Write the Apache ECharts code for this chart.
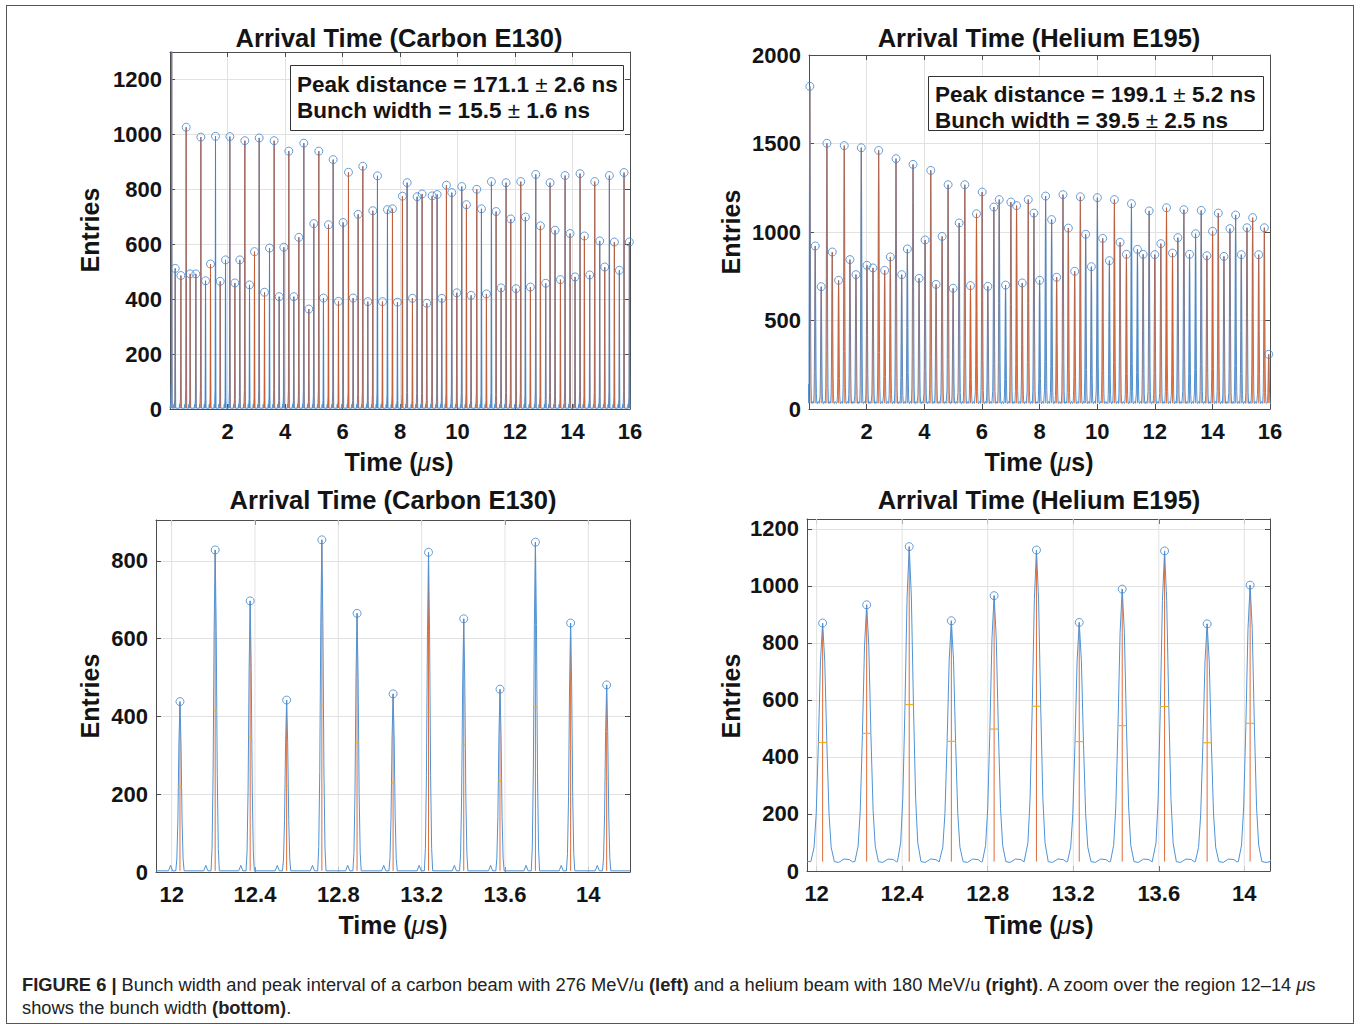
<!DOCTYPE html>
<html>
<head>
<meta charset="utf-8">
<script src="https://cdn.jsdelivr.net/npm/echarts@6/dist/echarts.min.js"></script>
<style>
html,body{margin:0;padding:0;background:#fff;}
#wrap{position:relative;width:1360px;height:1029px;overflow:hidden;background:#fff;}
#chart{position:absolute;left:0;top:0;width:1360px;height:1029px;}
#frame{position:absolute;left:6px;top:5px;width:1348px;height:1019px;border:1px solid #555;box-sizing:border-box;pointer-events:none;}
#caption{position:absolute;left:22px;top:973px;font-family:"Liberation Sans",Arial,Helvetica,sans-serif;font-size:18.3px;line-height:23px;color:#222;white-space:nowrap;}
#caption b{font-weight:bold;}
</style>
</head>
<body>
<div id="wrap">
  <div id="chart"></div>
  <div id="frame"></div>
  <div id="caption"><b>FIGURE 6 |</b> Bunch width and peak interval of a carbon beam with 276 MeV/u <b>(left)</b> and a helium beam with 180 MeV/u <b>(right)</b>. A zoom over the region 12–14 <i>μ</i>s<br>shows the bunch width <b>(bottom)</b>.</div>
</div>
<script>
// ---------------- DATA ----------------
// Top-left: Carbon E130, peak times (µs) and peak heights (entries)
const CARBON_T = [0.06, 0.181, 0.378, 0.563, 0.702, 0.899, 1.073, 1.236, 1.409, 1.583, 1.746, 1.931, 2.082, 2.256, 2.429, 2.603, 2.766, 2.939, 3.102, 3.287, 3.461, 3.623, 3.797, 3.959, 4.133, 4.307, 4.481, 4.655, 4.829, 5.002, 5.176, 5.338, 5.512, 5.675, 5.860, 6.022, 6.208, 6.370, 6.544, 6.706, 6.880, 7.054, 7.216, 7.390, 7.564, 7.738, 7.911, 8.085, 8.248, 8.433, 8.595, 8.769, 8.932, 9.117, 9.291, 9.453, 9.615, 9.801, 9.975, 10.148, 10.311, 10.473, 10.670, 10.833, 11.006, 11.180, 11.343, 11.516, 11.690, 11.852, 12.038, 12.200, 12.362, 12.536, 12.722, 12.884, 13.069, 13.220, 13.394, 13.580, 13.742, 13.916, 14.089, 14.263, 14.414, 14.599, 14.773, 14.947, 15.121, 15.283, 15.457, 15.630, 15.793, 15.978];
const CARBON_PEAK = [1450, 512, 486, 1026, 492, 492, 990, 467, 528, 993, 465, 543, 992, 459, 543, 977, 452, 573, 987, 425, 586, 977, 409, 589, 939, 409, 625, 968, 364, 675, 939, 404, 671, 908, 392, 679, 862, 404, 709, 884, 391, 722, 849, 391, 726, 729, 389, 775, 824, 403, 773, 783, 385, 776, 781, 403, 815, 788, 423, 810, 744, 414, 800, 729, 419, 828, 719, 441, 824, 692, 438, 828, 699, 444, 854, 667, 458, 824, 651, 471, 850, 639, 481, 857, 630, 488, 828, 612, 517, 850, 608, 505, 861, 608];

// Top-right: Helium E195
const HELIUM_T = [0.030, 0.216, 0.424, 0.621, 0.807, 1.027, 1.224, 1.421, 1.630, 1.815, 2.012, 2.221, 2.418, 2.626, 2.823, 3.020, 3.217, 3.414, 3.611, 3.820, 4.029, 4.226, 4.411, 4.620, 4.828, 5.002, 5.211, 5.408, 5.605, 5.813, 6.010, 6.207, 6.416, 6.602, 6.822, 7.007, 7.204, 7.401, 7.610, 7.807, 8.004, 8.213, 8.421, 8.595, 8.815, 9.001, 9.221, 9.418, 9.603, 9.800, 10.009, 10.194, 10.426, 10.600, 10.797, 11.017, 11.191, 11.400, 11.597, 11.806, 12.002, 12.211, 12.408, 12.617, 12.802, 13.011, 13.208, 13.417, 13.613, 13.810, 14.007, 14.205, 14.402, 14.610, 14.807, 15.004, 15.201, 15.398, 15.607, 15.804, 15.955];
const HELIUM_PEAK = [1823, 921, 691, 1501, 887, 727, 1488, 844, 759, 1476, 812, 797, 1461, 783, 859, 1414, 759, 904, 1382, 738, 955, 1348, 704, 975, 1267, 682, 1051, 1267, 697, 1103, 1226, 693, 1141, 1183, 700, 1169, 1149, 712, 1183, 1107, 727, 1203, 1070, 744, 1211, 1022, 778, 1199, 987, 804, 1194, 964, 838, 1183, 942, 874, 1160, 902, 874, 1119, 872, 934, 1137, 881, 968, 1126, 874, 990, 1122, 866, 1004, 1107, 862, 1019, 1096, 872, 1024, 1081, 872, 1024, 309];

// Bottom-left: Carbon zoom 12–14 µs
const CARBON_ZOOM_T = [12.040, 12.209, 12.377, 12.552, 12.721, 12.890, 13.063, 13.233, 13.402, 13.576, 13.746, 13.915, 14.088];
const CARBON_ZOOM_PEAK = [438, 828, 697, 442, 854, 665, 458, 822, 651, 470, 848, 640, 481];
const CARBON_ZOOM_HALF = [219, 414, 349, 221, 427, 333, 229, 411, 326, 235, 424, 320, 241];

// Bottom-right: Helium zoom 12–14 µs
const HELIUM_ZOOM_T = [12.028, 12.234, 12.433, 12.630, 12.830, 13.028, 13.228, 13.429, 13.627, 13.826, 14.027];
const HELIUM_ZOOM_PEAK = [870, 934, 1138, 878, 966, 1126, 872, 989, 1123, 867, 1003];
const HELIUM_ZOOM_HALF = [451, 483, 584, 455, 498, 578, 454, 510, 577, 450, 518];

// Baselines (entries) and bunch widths (µs) as read / annotated
const CARBON_BASE = 3;
const HELIUM_BASE = 33;
const CARBON_WIDTH = 0.0155;
const HELIUM_WIDTH = 0.0395;

// Peak shapes: [dt (µs), fraction of height above baseline]
const CARBON_PROFILE = [[-0.02,0],[-0.015,0.07],[-0.01,0.3],[-0.005,0.75],[0,1],[0.005,0.75],[0.01,0.3],[0.015,0.07],[0.02,0]];
const CARBON_BUMP = [[-0.055,0],[-0.045,14],[-0.035,0]];
const HELIUM_PROFILE = [[-0.055,0],[-0.04,0.06],[-0.03,0.2],[-0.02,0.49],[-0.01,0.84],[0,1],[0.01,0.84],[0.02,0.49],[0.03,0.2],[0.04,0.06],[0.055,0]];
const HELIUM_BUMP = [[0.075,-3],[0.1,9],[0.125,7],[0.14,-1]];

// Axis tick settings
const TOP_X = {min: 0, max: 16, interval: 2};
const CARBON_Y = {min: 0, max: 1300, interval: 200};
const HELIUM_Y = {min: 0, max: 2000, interval: 500};
const CARBON_ZOOM_X = {min: 11.925, max: 14.2};
const HELIUM_ZOOM_X = {min: 11.955, max: 14.12};
const ZOOM_X_TICKS = [12, 12.4, 12.8, 13.2, 13.6, 14];
const CARBON_ZOOM_Y = {min: 0, max: 905, interval: 200};
const HELIUM_ZOOM_Y = {min: 0, max: 1235, interval: 200};

// ---------------- STYLE ----------------
const FONT = '"Liberation Sans", Arial, Helvetica, sans-serif';
const BLUE = '#4f93d6';
const CIRCLE = '#3f86cf';
const ORANGE = '#D95319';
const YELLOW = '#EDB120';
const AXIS = '#4d4d4d';
const GRID = '#e2e2e2';
const TXT = '#141414';

function buildSignal(times, peaks, base, profile, bump, xmin, xmax) {
  const half = Math.max(...profile.map(p => Math.abs(p[0])));
  const pts = [[xmin, base]];
  for (let i = 0; i < times.length; i++) {
    for (const [dt, dv] of bump) {
      const x = times[i] + dt;
      let clash = false;
      for (const j of [i - 1, i + 1]) {
        if (j >= 0 && j < times.length && Math.abs(x - times[j]) <= half) clash = true;
      }
      if (!clash) pts.push([x, base + dv]);
    }
    for (const [dt, f] of profile) {
      pts.push([times[i] + dt, base + f * (peaks[i] - base)]);
    }
  }
  pts.push([xmax, base]);
  pts.sort((a, b) => a[0] - b[0]);
  return pts;
}

function lineSeries(g, data, z) {
  return {
    type: 'line', xAxisIndex: g, yAxisIndex: g, data: data, showSymbol: false, symbol: 'none',
    clip: true, silent: true, animation: false, z: z,
    lineStyle: {color: BLUE, width: 1}
  };
}
function stemSeries(g, times, peaks, base, yMax, z) {
  return {
    type: 'custom', xAxisIndex: g, yAxisIndex: g, clip: true, silent: true, animation: false, z: z,
    data: times.map((t, i) => [t, peaks[i]]),
    encode: {x: 0, y: 1},
    renderItem: function (params, api) {
      const x = api.value(0);
      const p0 = api.coord([x, base]);
      const p1 = api.coord([x, Math.min(api.value(1), yMax)]);
      return {type: 'line', shape: {x1: p0[0], y1: p0[1], x2: p1[0], y2: p1[1]},
              style: {stroke: ORANGE, lineWidth: 1, opacity: 0.85}};
    }
  };
}
function widthSeries(g, times, halves, w) {
  return {
    type: 'custom', xAxisIndex: g, yAxisIndex: g, clip: true, silent: true, animation: false, z: 6,
    data: times.map((t, i) => [t, halves[i]]),
    encode: {x: 0, y: 1},
    renderItem: function (params, api) {
      const x = api.value(0), y = api.value(1);
      const p0 = api.coord([x - w / 2, y]);
      const p1 = api.coord([x + w / 2, y]);
      return {type: 'line', shape: {x1: p0[0], y1: p0[1], x2: p1[0], y2: p1[1]},
              style: {stroke: YELLOW, lineWidth: 1.2}};
    }
  };
}
function circleSeries(g, times, peaks) {
  return {
    type: 'scatter', xAxisIndex: g, yAxisIndex: g, clip: true, silent: true, animation: false, z: 7,
    symbol: 'circle', symbolSize: 8,
    itemStyle: {color: 'rgba(255,255,255,0)', borderColor: CIRCLE, borderWidth: 1},
    data: times.map((t, i) => [t, peaks[i]])
  };
}
function vGridSeries(g, ticks, yMin, yMax) {
  return {
    type: 'custom', xAxisIndex: g, yAxisIndex: g, silent: true, animation: false, z: 1,
    data: ticks.map(t => [t, yMin]),
    encode: {x: 0, y: 1},
    renderItem: function (params, api) {
      const x = api.value(0);
      const p0 = api.coord([x, yMin]);
      const p1 = api.coord([x, yMax]);
      return {type: 'line', shape: {x1: p0[0], y1: p0[1], x2: p1[0], y2: p1[1]},
              style: {stroke: GRID, lineWidth: 1}};
    }
  };
}

const axisLine = {show: true, onZero: false, lineStyle: {color: AXIS, width: 1}};
const axisTick = {show: true, inside: true, length: 5, lineStyle: {color: AXIS, width: 1}};
const labelBase = {color: TXT, fontFamily: FONT, fontWeight: 'bold', fontSize: 22, formatter: v => String(v)};

function mainX(g, cfg, custom) {
  const ax = {
    type: 'value', gridIndex: g, position: 'bottom', min: cfg.min, max: cfg.max,
    axisLine: axisLine,
    axisTick: Object.assign({}, axisTick),
    axisLabel: Object.assign({margin: 11, showMinLabel: false, showMaxLabel: true}, labelBase),
    splitLine: {show: !custom, lineStyle: {color: GRID, width: 1}}
  };
  if (custom) {
    ax.axisLabel.customValues = custom;
    ax.axisLabel.showMinLabel = true;
    ax.axisTick.customValues = custom;
  } else {
    ax.interval = cfg.interval;
  }
  return ax;
}
function topX(g, cfg, custom) {
  const ax = {
    type: 'value', gridIndex: g, position: 'top', min: cfg.min, max: cfg.max,
    axisLine: axisLine, axisTick: Object.assign({}, axisTick),
    axisLabel: {show: false}, splitLine: {show: false}
  };
  if (custom) ax.axisTick.customValues = custom; else ax.interval = cfg.interval;
  return ax;
}
function mainY(g, cfg) {
  return {
    type: 'value', gridIndex: g, position: 'left', min: cfg.min, max: cfg.max, interval: cfg.interval,
    axisLine: axisLine, axisTick: axisTick,
    axisLabel: Object.assign({margin: 8, showMaxLabel: (cfg.max % cfg.interval === 0)}, labelBase),
    splitLine: {show: true, lineStyle: {color: GRID, width: 1}}
  };
}
function rightY(g, cfg) {
  return {
    type: 'value', gridIndex: g, position: 'right', min: cfg.min, max: cfg.max, interval: cfg.interval,
    axisLine: axisLine, axisTick: axisTick, axisLabel: {show: false}, splitLine: {show: false}
  };
}

function text(x, y, str, font, align, rot) {
  return {type: 'text', x: x, y: y, rotation: rot || 0, z: 100, silent: true,
          style: {text: str, font: font, fill: TXT, align: align || 'center', verticalAlign: 'middle'}};
}
function timeLabel(x, y) {
  return {type: 'text', x: x, y: y, z: 100, silent: true,
          style: {text: '{a|Time (}{b|μ}{a|s)}', align: 'center', verticalAlign: 'middle', fill: TXT,
                  rich: {a: {fontFamily: FONT, fontWeight: 'bold', fontSize: 25, fill: TXT},
                         b: {fontFamily: FONT, fontStyle: 'italic', fontSize: 25, fill: TXT}}}};
}
function boxLine(x, y, before, after) {
  return {type: 'text', x: x, y: y, z: 100, silent: true,
          style: {text: '{a|' + before + ' }{n|±}{a| ' + after + '}', align: 'left', verticalAlign: 'middle', fill: TXT,
                  rich: {a: {fontFamily: FONT, fontWeight: 'bold', fontSize: 22.5, fill: TXT},
                         n: {fontFamily: FONT, fontWeight: 'normal', fontSize: 22.5, fill: TXT}}}};
}

const TITLE_FONT = 'bold 25.5px ' + FONT;
const YLAB_FONT = 'bold 25px ' + FONT;

const chart = echarts.init(document.getElementById('chart'), null, {renderer: 'svg', width: 1360, height: 1029});

const option = {
  animation: false,
  backgroundColor: '#fff',
  grid: [
    {left: 170, top: 52, width: 460, height: 357, outerBoundsMode: 'none', containLabel: false},
    {left: 809, top: 55, width: 461, height: 354, outerBoundsMode: 'none', containLabel: false},
    {left: 156, top: 520, width: 474, height: 352, outerBoundsMode: 'none', containLabel: false},
    {left: 807, top: 519, width: 463, height: 352, outerBoundsMode: 'none', containLabel: false}
  ],
  xAxis: [
    mainX(0, TOP_X), mainX(1, TOP_X), mainX(2, CARBON_ZOOM_X, ZOOM_X_TICKS), mainX(3, HELIUM_ZOOM_X, ZOOM_X_TICKS),
    topX(0, TOP_X), topX(1, TOP_X), topX(2, CARBON_ZOOM_X, ZOOM_X_TICKS), topX(3, HELIUM_ZOOM_X, ZOOM_X_TICKS)
  ],
  yAxis: [
    mainY(0, CARBON_Y), mainY(1, HELIUM_Y), mainY(2, CARBON_ZOOM_Y), mainY(3, HELIUM_ZOOM_Y),
    rightY(0, CARBON_Y), rightY(1, HELIUM_Y), rightY(2, CARBON_ZOOM_Y), rightY(3, HELIUM_ZOOM_Y)
  ],
  series: [
    // top-left
    lineSeries(0, buildSignal(CARBON_T, CARBON_PEAK, CARBON_BASE, CARBON_PROFILE, CARBON_BUMP, TOP_X.min, TOP_X.max), 2),
    stemSeries(0, CARBON_T, CARBON_PEAK, CARBON_BASE, CARBON_Y.max, 3),
    circleSeries(0, CARBON_T, CARBON_PEAK),
    // top-right
    lineSeries(1, buildSignal(HELIUM_T, HELIUM_PEAK, HELIUM_BASE, HELIUM_PROFILE, HELIUM_BUMP, TOP_X.min, TOP_X.max), 2),
    stemSeries(1, HELIUM_T, HELIUM_PEAK, HELIUM_BASE, HELIUM_Y.max, 3),
    circleSeries(1, HELIUM_T, HELIUM_PEAK),
    // bottom-left
    vGridSeries(2, ZOOM_X_TICKS, CARBON_ZOOM_Y.min, CARBON_ZOOM_Y.max),
    stemSeries(2, CARBON_ZOOM_T, CARBON_ZOOM_PEAK, CARBON_BASE, CARBON_ZOOM_Y.max, 2),
    lineSeries(2, buildSignal(CARBON_ZOOM_T, CARBON_ZOOM_PEAK, CARBON_BASE, CARBON_PROFILE, CARBON_BUMP, CARBON_ZOOM_X.min, CARBON_ZOOM_X.max), 4),
    widthSeries(2, CARBON_ZOOM_T, CARBON_ZOOM_HALF, CARBON_WIDTH),
    circleSeries(2, CARBON_ZOOM_T, CARBON_ZOOM_PEAK),
    // bottom-right
    vGridSeries(3, ZOOM_X_TICKS, HELIUM_ZOOM_Y.min, HELIUM_ZOOM_Y.max),
    stemSeries(3, HELIUM_ZOOM_T, HELIUM_ZOOM_PEAK, HELIUM_BASE, HELIUM_ZOOM_Y.max, 2),
    lineSeries(3, buildSignal(HELIUM_ZOOM_T, HELIUM_ZOOM_PEAK, HELIUM_BASE, HELIUM_PROFILE, HELIUM_BUMP, HELIUM_ZOOM_X.min, HELIUM_ZOOM_X.max), 4),
    widthSeries(3, HELIUM_ZOOM_T, HELIUM_ZOOM_HALF, HELIUM_WIDTH),
    circleSeries(3, HELIUM_ZOOM_T, HELIUM_ZOOM_PEAK)
  ],
  graphic: [
    text(399, 38, 'Arrival Time (Carbon E130)', TITLE_FONT),
    text(1039, 38, 'Arrival Time (Helium E195)', TITLE_FONT),
    text(393, 500, 'Arrival Time (Carbon E130)', TITLE_FONT),
    text(1039, 500, 'Arrival Time (Helium E195)', TITLE_FONT),
    text(90, 230, 'Entries', YLAB_FONT, 'center', Math.PI / 2),
    text(731, 232, 'Entries', YLAB_FONT, 'center', Math.PI / 2),
    text(90, 696, 'Entries', YLAB_FONT, 'center', Math.PI / 2),
    text(731, 696, 'Entries', YLAB_FONT, 'center', Math.PI / 2),
    timeLabel(399, 462),
    timeLabel(1039, 462),
    timeLabel(393, 925),
    timeLabel(1039, 925),
    {type: 'rect', z: 90, silent: true, shape: {x: 290.5, y: 65.5, width: 333, height: 65},
     style: {fill: '#fff', stroke: '#333', lineWidth: 1}},
    boxLine(297, 84, 'Peak distance = 171.1', '2.6 ns'),
    boxLine(297, 110, 'Bunch width = 15.5', '1.6 ns'),
    {type: 'rect', z: 90, silent: true, shape: {x: 928.5, y: 76.5, width: 335, height: 54},
     style: {fill: '#fff', stroke: '#333', lineWidth: 1}},
    boxLine(935, 94, 'Peak distance = 199.1', '5.2 ns'),
    boxLine(935, 120, 'Bunch width = 39.5', '2.5 ns')
  ]
};
chart.setOption(option);
</script>
</body>
</html>
